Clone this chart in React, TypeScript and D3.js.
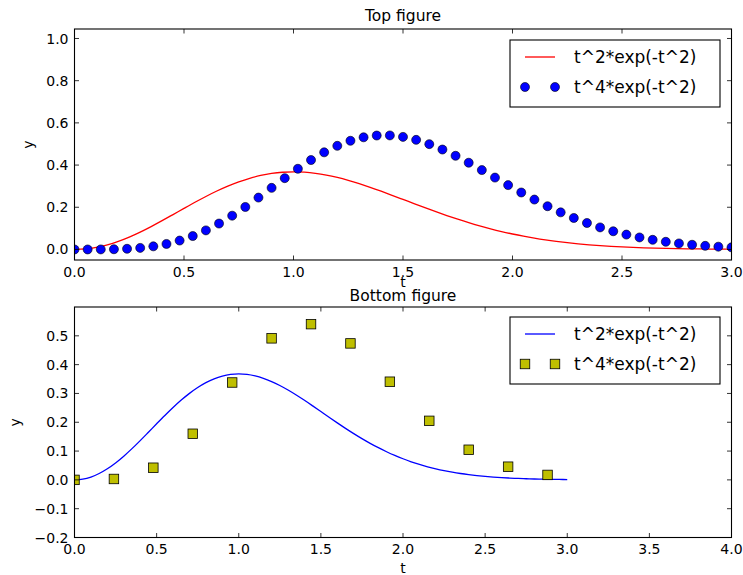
import React, { useEffect, useRef } from "react";
import * as d3 from "d3";

// t^2*exp(-t^2) sampled at t = 0, 0.05, ..., 3.0
const lineT = [
  0, 0.05, 0.1, 0.15, 0.2, 0.25, 0.3, 0.35, 0.4, 0.45, 0.5, 0.55, 0.6, 0.65, 0.7, 0.75, 0.8, 0.85, 0.9, 0.95,
  1.0, 1.05, 1.1, 1.15, 1.2, 1.25, 1.3, 1.35, 1.4, 1.45, 1.5, 1.55, 1.6, 1.65, 1.7, 1.75, 1.8, 1.85, 1.9, 1.95,
  2.0, 2.05, 2.1, 2.15, 2.2, 2.25, 2.3, 2.35, 2.4, 2.45, 2.5, 2.55, 2.6, 2.65, 2.7, 2.75, 2.8, 2.85, 2.9, 2.95, 3.0,
];
const lineY = [
  0, 0.002494, 0.0099, 0.021999, 0.038432, 0.058713, 0.082254, 0.108377, 0.136343, 0.16538, 0.1947, 0.223538,
  0.251164, 0.276911, 0.300189, 0.320501, 0.337466, 0.350803, 0.360337, 0.366018, 0.367879, 0.366074, 0.360822,
  0.352407, 0.341179, 0.327516, 0.311839, 0.294571, 0.276086, 0.256799, 0.23715, 0.217402, 0.197888, 0.178868,
  0.160626, 0.143233, 0.126878, 0.111676, 0.097651, 0.084834, 0.073263, 0.062869, 0.053604, 0.045425, 0.03827,
  0.032046, 0.026672, 0.022068, 0.01815, 0.014844, 0.012063, 0.009747, 0.007835, 0.006257, 0.004972, 0.003933,
  0.003089, 0.002412, 0.001875, 0.001445, 0.001111,
];

// t^4*exp(-t^2) sampled at t = 0, 0.06, ..., 3.0
const dotT = [
  0, 0.06, 0.12, 0.18, 0.24, 0.3, 0.36, 0.42, 0.48, 0.54, 0.6, 0.66, 0.72, 0.78, 0.84, 0.9, 0.96, 1.02, 1.08, 1.14,
  1.2, 1.26, 1.32, 1.38, 1.44, 1.5, 1.56, 1.62, 1.68, 1.74, 1.8, 1.86, 1.92, 1.98, 2.04, 2.1, 2.16, 2.22, 2.28,
  2.34, 2.4, 2.46, 2.52, 2.58, 2.64, 2.7, 2.76, 2.82, 2.88, 2.94, 3.0,
];
const dotY = [
  0, 0.000013, 0.000204, 0.00102, 0.00313, 0.0074, 0.01475, 0.02608, 0.04216, 0.06353, 0.09042, 0.12275, 0.16004,
  0.20144, 0.24585, 0.2919, 0.33796, 0.38243, 0.42379, 0.46041, 0.49124, 0.51518, 0.5316, 0.54002, 0.54049,
  0.53359, 0.51957, 0.4992, 0.47365, 0.44402, 0.41108, 0.3763, 0.34069, 0.30493, 0.27, 0.23649, 0.20492, 0.17576,
  0.1492, 0.12539, 0.10454, 0.08621, 0.07045, 0.05702, 0.04573, 0.0363, 0.02853, 0.02224, 0.01717, 0.01314,
  0.00999,
];

// bottom figure squares: t = 0, 0.24, ..., 2.88
const sqT = [0, 0.24, 0.48, 0.72, 0.96, 1.2, 1.44, 1.68, 1.92, 2.16, 2.4, 2.64, 2.88];
const sqY = [0, 0.00313, 0.04216, 0.16004, 0.33796, 0.49124, 0.54049, 0.47365, 0.34069, 0.20492, 0.10454, 0.04573, 0.01717];

const topXTicks = [0, 0.5, 1.0, 1.5, 2.0, 2.5, 3.0];
const topYTicks = [0, 0.2, 0.4, 0.6, 0.8, 1.0];
const botXTicks = [0, 0.5, 1.0, 1.5, 2.0, 2.5, 3.0, 3.5, 4.0];
const botYTicks = [-0.2, -0.1, 0, 0.1, 0.2, 0.3, 0.4, 0.5];

const lineLabel = "t^2*exp(-t^2)";
const dotLabel = "t^4*exp(-t^2)";

const FONT = "DejaVu Sans, sans-serif";
const fmt = (v: number) => d3.format(".1f")(v).replace("-", "\u2212");

export default function App() {
  const ref = useRef<SVGSVGElement | null>(null);

  useEffect(() => {
    const svg = d3.select(ref.current);
    svg.selectAll("*").remove();

    const L = 74.5, R = 731.5;

    function panel(opts: {
      id: string; top: number; bottom: number; xDom: [number, number]; yDom: [number, number];
      xTicks: number[]; yTicks: number[]; title: string; titleY: number; xLabelY: number; yLabelX: number;
      lineColor: string; marker: "circle" | "square"; mT: number[]; mY: number[]; legendTop: number;
    }) {
      const x = d3.scaleLinear().domain(opts.xDom).range([L, R]);
      const y = d3.scaleLinear().domain(opts.yDom).range([opts.bottom, opts.top]);
      const g = svg.append("g");
      g.append("clipPath").attr("id", opts.id).append("rect")
        .attr("x", L).attr("y", opts.top).attr("width", R - L).attr("height", opts.bottom - opts.top);
      const plot = g.append("g").attr("clip-path", `url(#${opts.id})`);

      const lineGen = d3.line<number>().x((_, i) => x(lineT[i])).y((d) => y(d)).curve(d3.curveMonotoneX);
      plot.append("path").attr("d", lineGen(lineY) as string).attr("fill", "none")
        .attr("stroke", opts.lineColor).attr("stroke-width", 1.3);

      if (opts.marker === "circle") {
        plot.selectAll("circle.m").data(opts.mY).enter().append("circle")
          .attr("cx", (_, i) => x(opts.mT[i])).attr("cy", (d) => y(d)).attr("r", 4.5)
          .attr("fill", "#0000ff").attr("stroke", "#000").attr("stroke-width", 0.6);
      } else {
        const s = 9.5;
        plot.selectAll("rect.m").data(opts.mY).enter().append("rect")
          .attr("x", (_, i) => x(opts.mT[i]) - s / 2).attr("y", (d) => y(d) - s / 2)
          .attr("width", s).attr("height", s)
          .attr("fill", "#bfbf00").attr("stroke", "#000").attr("stroke-width", 0.8);
      }

      // frame
      g.append("rect").attr("x", L).attr("y", opts.top).attr("width", R - L).attr("height", opts.bottom - opts.top)
        .attr("fill", "none").attr("stroke", "#000").attr("stroke-width", 1.1);

      const tl = 4.5;
      opts.xTicks.forEach((v) => {
        const px = x(v);
        g.append("line").attr("x1", px).attr("x2", px).attr("y1", opts.bottom).attr("y2", opts.bottom - tl)
          .attr("stroke", "#000").attr("stroke-width", 0.8);
        g.append("line").attr("x1", px).attr("x2", px).attr("y1", opts.top).attr("y2", opts.top + tl)
          .attr("stroke", "#000").attr("stroke-width", 0.8);
        g.append("text").attr("x", px).attr("y", opts.bottom + 6).attr("dy", "0.76em")
          .attr("text-anchor", "middle").attr("font-family", FONT).attr("font-size", 14).attr("fill", "#000")
          .text(fmt(v));
      });
      opts.yTicks.forEach((v) => {
        const py = y(v);
        g.append("line").attr("x1", L).attr("x2", L + tl).attr("y1", py).attr("y2", py)
          .attr("stroke", "#000").attr("stroke-width", 0.8);
        g.append("line").attr("x1", R).attr("x2", R - tl).attr("y1", py).attr("y2", py)
          .attr("stroke", "#000").attr("stroke-width", 0.8);
        g.append("text").attr("x", L - 6).attr("y", py).attr("dy", "0.36em")
          .attr("text-anchor", "end").attr("font-family", FONT).attr("font-size", 14).attr("fill", "#000")
          .text(fmt(v));
      });

      // titles & labels
      g.append("text").attr("x", (L + R) / 2).attr("y", opts.xLabelY).attr("text-anchor", "middle")
        .attr("font-family", FONT).attr("font-size", 14).attr("fill", "#000").text("t");
      g.append("text").attr("x", (L + R) / 2).attr("y", opts.titleY).attr("text-anchor", "middle")
        .attr("font-family", FONT).attr("font-size", 15.5).attr("fill", "#000").text(opts.title);
      const my = (opts.top + opts.bottom) / 2;
      g.append("text").attr("transform", `translate(${opts.yLabelX},${my}) rotate(-90)`)
        .attr("text-anchor", "middle").attr("dy", "0.36em")
        .attr("font-family", FONT).attr("font-size", 14).attr("fill", "#000").text("y");

      // legend
      const lx = 510, lw = 210, lt = opts.legendTop, lh = 67;
      const lg = g.append("g");
      lg.append("rect").attr("x", lx).attr("y", lt).attr("width", lw).attr("height", lh)
        .attr("fill", "#fff").attr("stroke", "#000").attr("stroke-width", 1.1);
      const r1 = lt + 17, r2 = lt + 47;
      lg.append("line").attr("x1", 525).attr("x2", 555).attr("y1", r1).attr("y2", r1)
        .attr("stroke", opts.lineColor).attr("stroke-width", 1.3);
      [525, 555].forEach((cx) => {
        if (opts.marker === "circle") {
          lg.append("circle").attr("cx", cx).attr("cy", r2).attr("r", 4.5)
            .attr("fill", "#0000ff").attr("stroke", "#000").attr("stroke-width", 0.6);
        } else {
          lg.append("rect").attr("x", cx - 4.75).attr("y", r2 - 4.75).attr("width", 9.5).attr("height", 9.5)
            .attr("fill", "#bfbf00").attr("stroke", "#000").attr("stroke-width", 0.8);
        }
      });
      lg.append("text").attr("x", 574).attr("y", r1).attr("dy", "0.36em")
        .attr("font-family", FONT).attr("font-size", 17).attr("fill", "#000").text(lineLabel);
      lg.append("text").attr("x", 574).attr("y", r2).attr("dy", "0.36em")
        .attr("font-family", FONT).attr("font-size", 17).attr("fill", "#000").text(dotLabel);
    }

    panel({
      id: "clipTop", top: 29, bottom: 260, xDom: [0, 3], yDom: [-0.05, 1.045],
      xTicks: topXTicks, yTicks: topYTicks, title: "Top figure", titleY: 21, xLabelY: 287, yLabelX: 28,
      lineColor: "#ff0000", marker: "circle", mT: dotT, mY: dotY, legendTop: 40,
    });
    panel({
      id: "clipBot", top: 307, bottom: 537.5, xDom: [0, 4], yDom: [-0.2, 0.6],
      xTicks: botXTicks, yTicks: botYTicks, title: "Bottom figure", titleY: 301, xLabelY: 573, yLabelX: 15,
      lineColor: "#0000ff", marker: "square", mT: sqT, mY: sqY, legendTop: 317,
    });
  }, []);

  return (
    <svg ref={ref} width={743} height={575}
      style={{ position: "absolute", left: 0, top: 0, background: "#fff" }} />
  );
}
